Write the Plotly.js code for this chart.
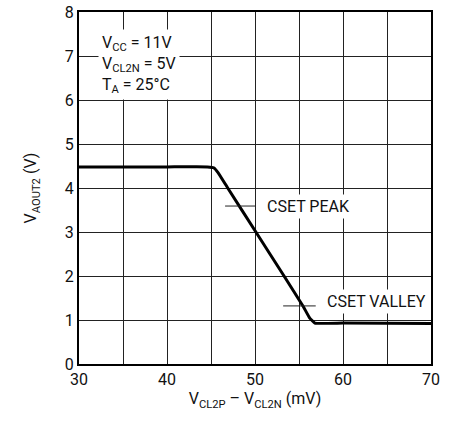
<!DOCTYPE html>
<html><head><meta charset="utf-8">
<script src="https://cdn.plot.ly/plotly-3.0.1.min.js"></script>
<style>body{margin:0;background:#fff}#c{width:456px;height:423px}</style>
</head><body><div id="c"></div>
<script>
const xVals = [30, 40, 44.6, 45.3, 45.8, 46.9, 50.1, 53.3, 55.5, 56.2, 56.8, 60, 70];
const yVals = [4.48, 4.48, 4.48, 4.46, 4.35, 4.0, 3.0, 2.0, 1.3, 1.05, 0.93, 0.93, 0.92];
const xTicks = [30, 40, 50, 60, 70];
const yTicks = [0, 1, 2, 3, 4, 5, 6, 7, 8];
const labels = ['CSET PEAK', 'CSET VALLEY'];
const labelX = [51.0, 57.8];
const labelY = [3.59, 1.43];
const leaderX0 = [46.6, 53.2];
const leaderX1 = [50.0, 56.9];
const leaderY = [3.59, 1.32];
const condText = 'V<sub>CC</sub> = 11V<br>V<sub>CL2N</sub> = 5V<br>T<sub>A</sub> = 25°C';

const FONT = 'Roboto, "Liberation Sans", sans-serif';

const shapes = leaderX0.map((x0, i) => ({
  type:'line', xref:'x', yref:'y', x0:x0, x1:leaderX1[i], y0:leaderY[i], y1:leaderY[i],
  line:{color:'#222', width:1}
}));

const annotations = labels.map((t, i) => ({
  x: labelX[i], y: labelY[i], xref:'x', yref:'y', text: t, showarrow:false,
  xanchor:'left', yanchor:'middle', bgcolor:'#fff', borderpad:2,
  font:{family:FONT, size:16, color:'#111'}
}));
annotations.push({
  x: 0.055, y: 0.952, xref:'paper', yref:'paper', text: condText, showarrow:false,
  xanchor:'left', yanchor:'top', align:'left', bgcolor:'#fff', borderpad:3,
  font:{family:FONT, size:16, color:'#111'}
});

Plotly.newPlot('c', [{
  x: xVals, y: yVals, mode:'lines', type:'scatter',
  line:{color:'#000', width:3, shape:'spline', smoothing:0.3}, hoverinfo:'none'
}], {
  width:456, height:423,
  margin:{l:79, r:25, t:12, b:59},
  paper_bgcolor:'#fff', plot_bgcolor:'#fff',
  showlegend:false,
  font:{family:FONT, size:16, color:'#111'},
  xaxis:{range:[30,70], tickvals:xTicks, showgrid:true, gridcolor:'#222', gridwidth:1,
    minor:{dtick:5, tick0:30, showgrid:true, gridcolor:'#222', gridwidth:1, ticks:''},
    zeroline:false, showline:true, mirror:true, linecolor:'#000', linewidth:2, ticks:'',
    tickfont:{family:FONT, size:16, color:'#111'},
    title:{text:'V<sub>CL2P</sub> – V<sub>CL2N</sub> (mV)', standoff:0, font:{family:FONT, size:16, color:'#111'}}},
  yaxis:{range:[0,8], tickvals:yTicks, showgrid:true, gridcolor:'#222', gridwidth:1,
    zeroline:false, showline:true, mirror:true, linecolor:'#000', linewidth:2, ticks:'',
    tickfont:{family:FONT, size:16, color:'#111'},
    title:{text:'V<sub>AOUT2</sub> (V)', standoff:24, font:{family:FONT, size:16, color:'#111'}}},
  shapes: shapes,
  annotations: annotations
}, {staticPlot:true, displayModeBar:false});
</script></body></html>
